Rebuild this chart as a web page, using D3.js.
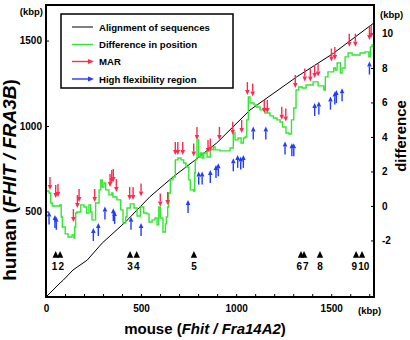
<!doctype html>
<html>
<head>
<meta charset="utf-8">
<script src="https://d3js.org/d3.v7.min.js"></script>
<style>
  body { margin: 0; background: #fff; }
  svg text { font-family: "Liberation Sans", Arial, sans-serif; font-weight: bold; fill: #000; }
</style>
</head>
<body>
<svg id="svg" width="410" height="340"></svg>
<script>
// alignment of sequences (mouse kbp -> human kbp)
const alignMouse = [0, 74, 91, 142, 217, 296, 419, 547, 670, 784, 898, 1073, 1319, 1511, 1722];
const alignHuman = [0, 82, 99, 158, 216, 316, 440, 587, 704, 801, 901, 1094, 1288, 1425, 1601];

// difference in position (right axis)
const diffKbp = [0,16,25,33,59,72,80,86,101,116,137,147,151,156,163,183,200,214,226,235,242,261,279,288,296,305,314,331,346,352,373,393,405,419,426,443,463,479,496,514,531,542,558,573,584,593,601,615,628,633,640,645,654,668,680,694,710,724,736,751,759,775,782,785,794,803,812,821,830,847,864,880,889,915,942,968,985,994,1010,1026,1038,1047,1056,1064,1073,1094,1108,1126,1152,1178,1196,1215,1231,1244,1262,1278,1291,1303,1315,1329,1347,1368,1389,1405,1417,1431,1452,1461,1469,1483,1504,1513,1522,1531,1540,1548,1557,1573,1589,1610,1631,1652,1678,1698,1706,1715,1725];
const diffVal = [0.87,0.75,0.17,0,0,0.06,-0.64,-1.22,-1.62,-1.80,-1.68,-1.86,-1.22,-0.41,-0.35,0.06,-0.06,-0.41,0.06,-0.35,-0.81,0.17,0.93,1.51,1.10,1.33,0.93,0.64,0.75,0.52,0.35,-0.23,-0.99,-0.64,-0.12,0.12,-0.12,-0.58,-0.06,-0.41,-0.46,-0.93,-0.81,-0.70,-1.10,-0.06,-0.70,-1.51,-1.04,-0.64,-0.06,0.75,1.51,1.68,2.67,2.78,2.67,2.49,2.26,1.51,0.93,0.87,1.91,2.67,3.83,2.84,3.07,2.78,3.07,2.84,3.25,3.42,3.25,3.19,3.19,3.36,4.23,3.83,3.94,3.65,3.94,4.0,4.99,6.32,5.97,5.86,5.74,5.57,5.39,5.22,5.10,4.99,4.87,4.58,4.23,4.17,4.99,5.68,6.72,6.90,6.84,7.01,7.01,7.19,7.19,6.96,6.96,6.72,7.48,7.77,7.77,8.0,7.88,8.29,8.29,7.71,8.0,8.64,8.87,8.75,8.75,8.87,8.93,8.64,9.22,9.33,9.28];

// MAR (red, pointing down) : position and tip value on the difference axis
const marKbp = [21,51,63,144,165,174,256,337,346,354,370,440,458,500,601,640,680,693,719,777,794,852,864,912,982,1029,1059,1087,1148,1164,1240,1261,1311,1361,1390,1413,1431,1501,1519,1595,1627,1701,1710];
const marTip = [0.93,0.46,0.52,-0.93,-0.12,0.23,0.23,1.10,1.33,1.39,0.81,0.35,0.35,0.54,-0.04,0.06,2.96,2.96,2.96,2.86,3.83,3.07,3.15,3.83,4.12,4.23,6.43,6.34,5.39,5.39,4.99,4.89,6.84,7.21,7.21,7.42,7.50,8.37,8.46,9.23,9.23,9.62,9.74];

// high flexibility region (blue, pointing up)
const flexKbp = [16,47,54,249,275,310,354,361,447,500,747,803,821,864,894,906,985,1008,1024,1038,1090,1156,1257,1293,1303,1413,1435,1496,1519,1527,1557,1701];
const flexTip = [-0.33,-0.52,-0.62,-1.28,-0.99,-0.04,-0.13,-0.29,-0.62,-0.99,0.35,1.99,1.99,2.09,2.38,2.48,2.77,2.96,2.86,2.96,4.60,4.60,3.73,3.63,3.63,5.97,6.05,6.34,6.63,6.72,6.82,8.37];

// numbered sites (triangles)
const siteNum = ["1","2","3","4","5","6","7","8","9","10"];
const siteKbp = [51, 74, 442, 477, 778, 1341, 1357, 1441, 1631, 1662];

const legendItems = ["Alignment of sequences", "Difference in position", "MAR", "High flexibility region"];

const green = "#33e633", red = "#ff2a50", blue = "#1f3cff";

const svg = d3.select("#svg");
const plotL = 46, plotR = 374, plotT = 5, plotB = 297;

const x = d3.scaleLinear().domain([0, 1725]).range([plotL, plotR]);
const yL = d3.scaleLinear().domain([0, 1708]).range([plotB, plotT]);
const yR = d3.scaleLinear().domain([-5.28, 11.65]).range([plotB, plotT]);

// axes
function styleAxis(g) {
    g.select(".domain").remove();
    g.selectAll(".tick line").attr("stroke", "#000").attr("stroke-width", 1);
    g.selectAll(".tick text").attr("font-size", 10).attr("fill", "#000")
        .style("font-family", '"Liberation Sans", Arial, sans-serif').style("font-weight", "bold");
}

svg.append("g")
    .attr("transform", `translate(0,${plotB})`)
    .call(d3.axisBottom(x).tickValues(d3.range(0, 1701, 100)).tickSize(-3).tickPadding(8)
        .tickFormat(d => d % 500 === 0 ? String(d) : ""))
    .call(styleAxis);

svg.append("g")
    .attr("transform", `translate(${plotL},0)`)
    .call(d3.axisLeft(yL).tickValues([500, 1000, 1500]).tickSize(-3).tickPadding(4)
        .tickFormat(d => String(d)))
    .call(styleAxis);

svg.append("g")
    .attr("transform", `translate(${plotR},0)`)
    .call(d3.axisRight(yR).tickValues(d3.range(-2, 11, 2)).tickSize(-3).tickPadding(8)
        .tickFormat(d => String(d)))
    .call(styleAxis);

// lines
const alignData = alignMouse.map((m, i) => [m, alignHuman[i]]);
svg.append("path")
    .datum(alignData)
    .attr("fill", "none").attr("stroke", "#000").attr("stroke-width", 1)
    .attr("d", d3.line().x(d => x(d[0])).y(d => yL(d[1])));

const diffData = diffKbp.map((m, i) => [m, diffVal[i]]);
svg.append("path")
    .datum(diffData)
    .attr("fill", "none").attr("stroke", green).attr("stroke-width", 1.4)
    .attr("d", d3.line().curve(d3.curveStepAfter).x(d => x(d[0])).y(d => yR(d[1])));

// arrows
const arrowLen = 13;
function shaftPath(px, py, dir) {
    // dir = 1 : pointing down, tip at py ; dir = -1 : pointing up
    const tail = py - dir * arrowLen, base = py - dir * 5;
    return `M${px},${tail}L${px},${base}`;
}
function headPath(px, py, dir) {
    const base = py - dir * 5;
    return `M${px - 2.3},${base}L${px + 2.3},${base}L${px},${py}Z`;
}

const marData = marKbp.map((m, i) => [m, marTip[i]]);
const flexData = flexKbp.map((m, i) => [m, flexTip[i]]);

const arrows = svg.append("g");
arrows.selectAll("path.mar-s").data(marData).join("path")
    .attr("class", "mar-s").attr("stroke", red).attr("stroke-width", 1.4)
    .attr("d", d => shaftPath(x(d[0]), yR(d[1]), 1));
arrows.selectAll("path.mar-h").data(marData).join("path")
    .attr("class", "mar-h").attr("fill", red)
    .attr("d", d => headPath(x(d[0]), yR(d[1]), 1));
arrows.selectAll("path.flex-s").data(flexData).join("path")
    .attr("class", "flex-s").attr("stroke", blue).attr("stroke-width", 1.4)
    .attr("d", d => shaftPath(x(d[0]), yR(d[1]), -1));
arrows.selectAll("path.flex-h").data(flexData).join("path")
    .attr("class", "flex-h").attr("fill", blue)
    .attr("d", d => headPath(x(d[0]), yR(d[1]), -1));

// numbered sites
const triY = 254.5;
svg.append("g").selectAll("path").data(siteKbp).join("path")
    .attr("fill", "#000")
    .attr("d", d => `M${x(d) - 3.2},${triY + 3.2}L${x(d) + 3.2},${triY + 3.2}L${x(d)},${triY - 3.4}Z`);

// spread labels that would overlap
const labX = siteKbp.map(d => x(d));
const labW = siteNum.map(s => s.length * 5.6);
for (let k = 0; k < 3; k++) {
    for (let i = 1; i < labX.length; i++) {
        const need = (labW[i - 1] + labW[i]) / 2 + 1;
        const gap = labX[i] - labX[i - 1];
        if (gap < need) {
            const s = (need - gap) / 2;
            labX[i - 1] -= s; labX[i] += s;
        }
    }
}
svg.append("g").selectAll("text").data(siteNum).join("text")
    .attr("x", (d, i) => labX[i]).attr("y", 270)
    .attr("text-anchor", "middle").attr("font-size", 10)
    .text(d => d);

// frame
svg.append("rect")
    .attr("x", plotL).attr("y", plotT).attr("width", plotR - plotL).attr("height", plotB - plotT)
    .attr("fill", "none").attr("stroke", "#000").attr("stroke-width", 2);

// legend
const lg = svg.append("g");
lg.append("rect").attr("x", 61).attr("y", 14).attr("width", 172).attr("height", 74)
    .attr("fill", "#fff").attr("stroke", "#000").attr("stroke-width", 1.5);
const rowY = [27, 44.5, 61.5, 79];
const rowColor = ["#000", green, red, blue];
legendItems.forEach((t, i) => {
    lg.append("line").attr("x1", 72).attr("x2", i >= 2 ? 89 : 93)
        .attr("y1", rowY[i]).attr("y2", rowY[i])
        .attr("stroke", rowColor[i]).attr("stroke-width", i === 0 ? 1 : 1.4);
    if (i >= 2) {
        lg.append("path").attr("fill", rowColor[i])
            .attr("d", `M88,${rowY[i] - 2.5}L94,${rowY[i]}L88,${rowY[i] + 2.5}Z`);
    }
    lg.append("text").attr("x", 99).attr("y", rowY[i] + 3.5).attr("font-size", 9.6).text(t);
});

// axis titles and units
svg.append("text").attr("x", 43).attr("y", 15).attr("text-anchor", "end").attr("font-size", 9.5).text("(kbp)");
svg.append("text").attr("x", 380).attr("y", 18).attr("font-size", 9.5).text("(kbp)");
svg.append("text").attr("x", 358).attr("y", 314).attr("font-size", 9.5).text("(kbp)");

const xt = svg.append("text").attr("x", 205).attr("y", 334).attr("text-anchor", "middle").attr("font-size", 15);
xt.append("tspan").text("mouse (");
xt.append("tspan").attr("font-style", "italic").text("Fhit / Fra14A2");
xt.append("tspan").text(")");

const yt = svg.append("text").attr("transform", "translate(16,180) rotate(-90)")
    .attr("text-anchor", "middle").attr("font-size", 19);
yt.append("tspan").text("human (");
yt.append("tspan").attr("font-style", "italic").text("FHIT / FRA3B");
yt.append("tspan").text(")");

svg.append("text").attr("transform", "translate(406,136) rotate(-90)")
    .attr("text-anchor", "middle").attr("font-size", 15).text("difference");
</script>
</body>
</html>
